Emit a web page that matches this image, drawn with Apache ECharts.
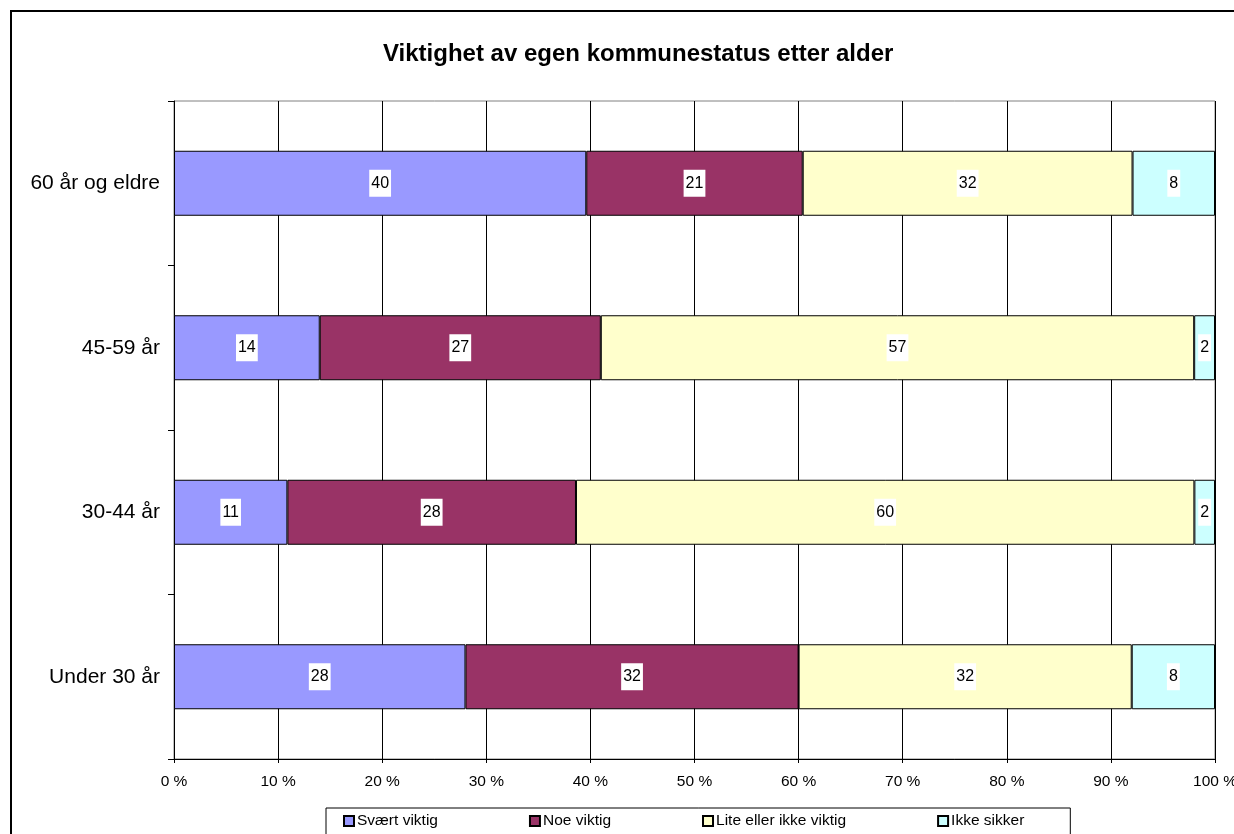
<!DOCTYPE html>
<html>
<head>
<meta charset="utf-8">
<script src="https://cdn.jsdelivr.net/npm/echarts@6/dist/echarts.min.js"></script>
<style>
  html, body { margin: 0; padding: 0; background: #fff; }
  #main { width: 1234px; height: 834px; }
</style>
</head>
<body>
<div id="main"></div>
<script>
// categories, bottom to top like the Excel chart
var ageGroups = ['Under 30 år', '30-44 år', '45-59 år', '60 år og eldre'];
var svaertViktig = [28, 11, 14, 40];
var noeViktig = [32, 28, 27, 21];
var liteViktig = [32, 60, 57, 32];
var ikkeSikker = [8, 2, 2, 8];
var xTicks = [0, 10, 20, 30, 40, 50, 60, 70, 80, 90, 100];

// 100% stacked: each row is scaled to its own sum
var totals = ageGroups.map(function (_, i) {
  return svaertViktig[i] + noeViktig[i] + liteViktig[i] + ikkeSikker[i];
});
function pct(arr) {
  return arr.map(function (v, i) { return { value: v / totals[i] * 100, raw: v }; });
}

function makeSeries(name, arr, color) {
  return {
    name: name,
    type: 'bar',
    stack: 'total',
    barWidth: 65,
    itemStyle: { color: color, borderColor: '#000', borderWidth: 1 },
    label: {
      show: true,
      position: 'inside',
      formatter: function (p) { return p.data.raw; },
      color: '#000',
      fontFamily: 'Arial, Liberation Sans',
      fontSize: 16,
      lineHeight: 17,
      backgroundColor: '#fff',
      padding: [5, 2]
    },
    emphasis: { disabled: true },
    data: pct(arr)
  };
}

var myChart = echarts.init(document.getElementById('main'));
var option = {
  animation: false,
  textStyle: { fontFamily: 'Arial, Liberation Sans' },
  title: {
    text: 'Viktighet av egen kommunestatus etter alder',
    left: 378,
    top: 37,
    textStyle: { fontSize: 24, fontWeight: 'bold', color: '#000' }
  },
  graphic: [{
    type: 'rect',
    shape: { x: 11, y: 11, width: 1400, height: 1000 },
    style: { fill: 'none', stroke: '#000', lineWidth: 2 },
    silent: true
  }],
  legend: {
    left: 326,
    top: 808,
    padding: [5, 46, 20, 17],
    itemGap: 91,
    itemWidth: 10,
    itemHeight: 10,
    icon: 'rect',
    borderColor: '#000',
    borderWidth: 1,
    textStyle: { fontSize: 15.5, color: '#000', padding: [0, 0, 0, -2] },
    data: ['Svært viktig', 'Noe viktig', 'Lite eller ikke viktig', 'Ikke sikker']
  },
  grid: {
    left: 174,
    right: 19,
    top: 101,
    bottom: 75,
    outerBoundsMode: 'none',
    containLabel: false,
    show: true,
    borderColor: '#808080',
    borderWidth: 1
  },
  xAxis: {
    type: 'value',
    min: xTicks[0],
    max: xTicks[xTicks.length - 1],
    interval: 10,
    axisLine: { show: true, lineStyle: { color: '#000' } },
    axisTick: { show: true, length: 4, lineStyle: { color: '#000' } },
    axisLabel: { formatter: '{value} %', fontSize: 15.5, color: '#000', margin: 15 },
    splitLine: { show: true, lineStyle: { color: '#000', width: 1 } }
  },
  yAxis: {
    type: 'category',
    data: ageGroups,
    axisLine: { show: true, lineStyle: { color: '#000' } },
    axisTick: { show: true, length: 6, inside: false, lineStyle: { color: '#000' } },
    axisLabel: { fontSize: 21, color: '#000', margin: 14 },
    splitLine: { show: false }
  },
  series: [
    makeSeries('Svært viktig', svaertViktig, '#9999FF'),
    makeSeries('Noe viktig', noeViktig, '#993366'),
    makeSeries('Lite eller ikke viktig', liteViktig, '#FFFFCC'),
    makeSeries('Ikke sikker', ikkeSikker, '#CCFFFF')
  ]
};
myChart.setOption(option);
</script>
</body>
</html>
